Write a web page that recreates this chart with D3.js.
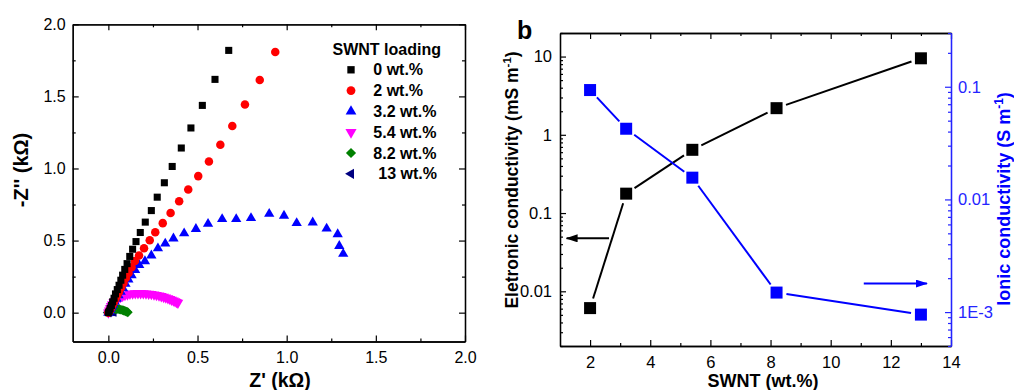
<!DOCTYPE html>
<html>
<head>
<meta charset="utf-8">
<script src="https://cdn.jsdelivr.net/npm/d3@7"></script>
<style>
  body { margin: 0; background: #fff; }
  svg { display: block; font-family: "Liberation Sans", Arial, sans-serif; }
</style>
</head>
<body>
<div id="chart"></div>
<script>
// ---- panel a: Nyquist data (kOhm) ----
const loadings = ["0 wt.%", "2 wt.%", "3.2 wt.%", "5.4 wt.%", "8.2 wt.%", "13 wt.%"];

const re0 = [0.675, 0.598, 0.527, 0.463, 0.409, 0.358, 0.314, 0.274, 0.241, 0.207, 0.179, 0.155, 0.136,
  0.12, 0.105, 0.092, 0.08, 0.07, 0.06, 0.05, 0.04, 0.032, 0.024, 0.017, 0.01, 0.005, 0.0];
const im0 = [1.819, 1.618, 1.4375, 1.281, 1.142, 1.014, 0.901, 0.801, 0.708, 0.628, 0.556, 0.493, 0.44,
  0.39, 0.34, 0.30, 0.26, 0.225, 0.19, 0.16, 0.13, 0.10, 0.075, 0.05, 0.03, 0.01, 0.0];

const re2 = [0.936, 0.849, 0.766, 0.695, 0.628, 0.564, 0.504, 0.448, 0.397, 0.349, 0.305, 0.263, 0.232, 0.2, 0.172, 0.149,
  0.13, 0.113, 0.098, 0.085, 0.072, 0.06, 0.05, 0.04, 0.031, 0.023, 0.016, 0.01, 0.005, 0.0];
const im2 = [1.808, 1.614, 1.443, 1.294, 1.165, 1.049, 0.947, 0.854, 0.772, 0.692, 0.621, 0.558, 0.503, 0.447, 0.396, 0.359,
  0.315, 0.275, 0.24, 0.205, 0.175, 0.145, 0.12, 0.095, 0.073, 0.053, 0.036, 0.021, 0.009, 0.0];

const re32 = [1.317, 1.295, 1.286, 1.224, 1.146, 1.056, 0.985, 0.902, 0.8, 0.717, 0.638, 0.559, 0.491, 0.425, 0.365, 0.319,
  0.278, 0.241, 0.205, 0.173, 0.15, 0.13, 0.112, 0.096, 0.082, 0.069, 0.057, 0.046, 0.036, 0.027, 0.019, 0.012, 0.006, 0.0];
const im32 = [0.408, 0.463, 0.544, 0.583, 0.625, 0.621, 0.672, 0.685, 0.656, 0.649, 0.649, 0.616, 0.58, 0.55, 0.515, 0.479,
  0.446, 0.396, 0.357, 0.331, 0.295, 0.26, 0.23, 0.2, 0.17, 0.145, 0.12, 0.097, 0.076, 0.057, 0.04, 0.025, 0.012, 0.0];

const re54 = [0.0, 0.005, 0.01, 0.016, 0.022, 0.03, 0.038, 0.047, 0.057, 0.068, 0.08, 0.093, 0.107, 0.121, 0.136, 0.151,
  0.166, 0.181, 0.196, 0.211, 0.226, 0.241, 0.256, 0.27, 0.284, 0.297, 0.31, 0.322, 0.334, 0.345, 0.355, 0.365, 0.374, 0.382, 0.39];
const im54 = [0.0, 0.015, 0.03, 0.045, 0.058, 0.071, 0.082, 0.092, 0.101, 0.109, 0.116, 0.122, 0.126, 0.13, 0.132, 0.134,
  0.135, 0.135, 0.134, 0.133, 0.131, 0.129, 0.126, 0.122, 0.118, 0.114, 0.109, 0.104, 0.099, 0.094, 0.089, 0.084, 0.079, 0.074, 0.068];

const re82 = [0.0, 0.005, 0.01, 0.016, 0.023, 0.03, 0.038, 0.046, 0.054, 0.062, 0.07, 0.078, 0.085, 0.092, 0.098, 0.104, 0.109];
const im82 = [0.0, 0.008, 0.014, 0.019, 0.022, 0.024, 0.025, 0.025, 0.024, 0.023, 0.021, 0.018, 0.015, 0.012, 0.009, 0.006, 0.003];

const re13 = [0.0, 0.003, 0.006, 0.01, 0.014, 0.018, 0.022, 0.026, 0.03];
const im13 = [0.0, 0.004, 0.007, 0.009, 0.01, 0.01, 0.009, 0.007, 0.005];

const nyqRe = [re0, re2, re32, re54, re82, re13];
const nyqIm = [im0, im2, im32, im54, im82, im13];
const nyqColors = ["#000000", "#ff0000", "#0000ff", "#ff00ff", "#008000", "#000080"];

const aTicks = [0.0, 0.5, 1.0, 1.5, 2.0];
const aMinor = [0.25, 0.75, 1.25, 1.75];

// ---- panel b: conductivity vs SWNT loading ----
const swnt = [2, 3.2, 5.4, 8.2, 13];
const eCond = [0.0061, 0.177, 0.643, 2.19, 9.5];      // mS/m
const iCond = [0.0935, 0.0424, 0.0156, 0.00149, 0.00095]; // S/m
const bTicks = [2, 4, 6, 8, 10, 12, 14];
const bMinor = [3, 5, 7, 9, 11, 13];
const eTicks = [0.01, 0.1, 1, 10];
const eLabels = ["0.01", "0.1", "1", "10"];
const iTicks = [0.001, 0.01, 0.1];
const iLabels = ["1E-3", "0.01", "0.1"];

const W = 1014, H = 390;
const svg = d3.select("#chart").append("svg")
  .attr("width", W).attr("height", H);
svg.append("rect").attr("width", W).attr("height", H).attr("fill", "#fff");

const major = 6, minorLen = 3;

function styleAxis(g, color, fs) {
  g.selectAll("path.domain").attr("stroke", color).attr("stroke-width", 1.3);
  g.selectAll(".tick line").attr("stroke", color).attr("stroke-width", 1.2);
  g.selectAll(".tick text").attr("fill", color).style("font-size", (fs || 16) + "px")
    .style("font-family", "'Liberation Sans', Arial, sans-serif");
}

function symbolFor(i) {
  return [d3.symbolSquare, d3.symbolCircle, d3.symbolTriangle, d3.symbolTriangle, d3.symbolSquare, d3.symbolTriangle][i];
}
const symSize = [50, 57, 46, 50, 48, 42];
const symRot = [0, 0, 0, 180, 45, -90];

// ================= panel a =================
const xA = d3.scaleLinear().domain([-0.2, 2.0]).range([72.7, 465]);
const yA = d3.scaleLinear().domain([-0.2, 2.0]).range([341.5, 24.3]);
const fmtA = d3.format(".1f");

const pa = svg.append("g");

function frameA(axisFn, pos, labels) {
  const isX = axisFn === d3.axisBottom || axisFn === d3.axisTop;
  const sc = isX ? xA : yA;
  const tr = isX ? `translate(0,${pos})` : `translate(${pos},0)`;
  let g = pa.append("g").attr("transform", tr)
    .call(axisFn(sc).tickValues(aTicks).tickFormat(labels ? fmtA : "").tickSizeInner(-major).tickSizeOuter(0)
      .tickPadding(isX ? 10 : 7));
  styleAxis(g, "#000", 16);
  g = pa.append("g").attr("transform", tr)
    .call(axisFn(sc).tickValues(aMinor).tickFormat("").tickSizeInner(-minorLen).tickSizeOuter(0));
  styleAxis(g, "#000");
}
frameA(d3.axisBottom, yA.range()[0], true);
frameA(d3.axisTop, yA.range()[1], false);
frameA(d3.axisLeft, xA.range()[0], true);
frameA(d3.axisRight, xA.range()[1], false);

// data points (last series first so black/red sit on top)
for (let s = nyqRe.length - 1; s >= 0; s--) {
  const pts = nyqRe[s].map((v, i) => [v, nyqIm[s][i]]);
  pa.append("g").selectAll("path").data(pts).enter().append("path")
    .attr("d", d3.symbol().type(symbolFor(s)).size(symSize[s]))
    .attr("transform", d => `translate(${xA(d[0])},${yA(d[1])}) rotate(${symRot[s]})`)
    .attr("fill", nyqColors[s]);
}

// legend
const leg = pa.append("g").style("font-weight", "bold").style("font-size", "16px");
leg.append("text").attr("x", 332.5).attr("y", 55).text("SWNT loading");
loadings.forEach((lab, i) => {
  const cy = 69.8 + i * 20.8;
  leg.append("path")
    .attr("d", d3.symbol().type(symbolFor(i)).size(symSize[i] + 4))
    .attr("transform", `translate(351,${cy}) rotate(${symRot[i]})`)
    .attr("fill", nyqColors[i]);
  leg.append("text").attr("x", i === 5 ? 378.3 : 373.3).attr("y", cy + 5.6).text(lab);
});

// axis titles
pa.append("text").attr("x", 280).attr("y", 387).attr("text-anchor", "middle")
  .style("font-weight", "bold").style("font-size", "19.5px").text("Z' (k\u03A9)");
pa.append("text").attr("transform", "translate(28,170) rotate(-90)").attr("text-anchor", "middle")
  .style("font-weight", "bold").style("font-size", "20px").text("-Z'' (k\u03A9)");

// ================= panel b =================
const xB = d3.scaleLinear().domain([1, 14]).range([560, 951]);
const yL = d3.scaleLog().domain([0.002, 20]).range([346, 33]);
const yR = d3.scaleLog().domain([0.0005, 0.3]).range([346, 33]);
const blue = "#0000ff";
const axisBlue = "#2424ff";

function logMinors(lo, hi) {
  const out = [];
  for (let e = -5; e <= 2; e++) {
    for (let m = 2; m <= 9; m++) {
      const v = m * Math.pow(10, e);
      if (v >= lo * 0.999 && v <= hi * 1.001) out.push(v);
    }
  }
  return out;
}

const pb = svg.append("g");
g = pb.append("g").attr("transform", `translate(0,${yL.range()[0]})`)
  .call(d3.axisBottom(xB).tickValues(bTicks).tickFormat(d3.format("d")).tickSizeInner(-major).tickSizeOuter(0).tickPadding(10));
styleAxis(g, "#000", 16.5);
g = pb.append("g").attr("transform", `translate(0,${yL.range()[0]})`)
  .call(d3.axisBottom(xB).tickValues(bMinor).tickFormat("").tickSizeInner(-minorLen).tickSizeOuter(0));
styleAxis(g, "#000");
g = pb.append("g").attr("transform", `translate(0,${yL.range()[1]})`)
  .call(d3.axisTop(xB).tickValues(bTicks).tickFormat("").tickSizeInner(-major).tickSizeOuter(0));
styleAxis(g, "#000");
g = pb.append("g").attr("transform", `translate(0,${yL.range()[1]})`)
  .call(d3.axisTop(xB).tickValues(bMinor).tickFormat("").tickSizeInner(-minorLen).tickSizeOuter(0));
styleAxis(g, "#000");

g = pb.append("g").attr("transform", `translate(${xB.range()[0]},0)`)
  .call(d3.axisLeft(yL).tickValues(eTicks).tickFormat((d, i) => eLabels[i]).tickSizeInner(-major).tickSizeOuter(0).tickPadding(8));
styleAxis(g, "#000", 16.5);
g = pb.append("g").attr("transform", `translate(${xB.range()[0]},0)`)
  .call(d3.axisLeft(yL).tickValues(logMinors(0.002, 20)).tickFormat("").tickSizeInner(-minorLen).tickSizeOuter(0));
styleAxis(g, "#000");

g = pb.append("g").attr("transform", `translate(${xB.range()[1]},0)`)
  .call(d3.axisRight(yR).tickValues(iTicks).tickFormat((d, i) => iLabels[i]).tickSizeInner(-major).tickSizeOuter(0).tickPadding(7));
styleAxis(g, axisBlue, 16.5);
g = pb.append("g").attr("transform", `translate(${xB.range()[1]},0)`)
  .call(d3.axisRight(yR).tickValues(logMinors(0.0005, 0.3)).tickFormat("").tickSizeInner(-minorLen).tickSizeOuter(0));
styleAxis(g, axisBlue);

// lines with a small gap at each marker
function gappedLines(xs, ys, yScale, color) {
  const segs = [];
  for (let i = 0; i < xs.length - 1; i++) {
    const x0 = xB(xs[i]), y0 = yScale(ys[i]), x1 = xB(xs[i + 1]), y1 = yScale(ys[i + 1]);
    const dx = x1 - x0, dy = y1 - y0, d = Math.hypot(dx, dy), gap = 10;
    segs.push([x0 + dx / d * gap, y0 + dy / d * gap, x1 - dx / d * gap, y1 - dy / d * gap]);
  }
  pb.append("g").selectAll("line").data(segs).enter().append("line")
    .attr("x1", d => d[0]).attr("y1", d => d[1]).attr("x2", d => d[2]).attr("y2", d => d[3])
    .attr("stroke", color).attr("stroke-width", 2);
  pb.append("g").selectAll("path").data(xs.map((v, i) => [v, ys[i]])).enter().append("path")
    .attr("d", d3.symbol().type(d3.symbolSquare).size(144))
    .attr("transform", d => `translate(${xB(d[0])},${yScale(d[1])})`)
    .attr("fill", color);
}
gappedLines(swnt, eCond, yL, "#000");
gappedLines(swnt, iCond, yR, blue);

// arrows pointing at each series' axis
const defs = svg.append("defs");
[["arrBlack", "#000"], ["arrBlue", blue]].forEach(([id, c]) => {
  defs.append("marker").attr("id", id).attr("viewBox", "0 0 12 8")
    .attr("refX", 11).attr("refY", 4).attr("markerWidth", 12).attr("markerHeight", 8)
    .attr("markerUnits", "userSpaceOnUse").attr("orient", "auto")
    .append("path").attr("d", "M0,0 L12,4 L0,8 Z").attr("fill", c);
});
pb.append("line").attr("x1", xB(2.63)).attr("x2", xB(1.22))
  .attr("y1", yL(0.0475)).attr("y2", yL(0.0475))
  .attr("stroke", "#000").attr("stroke-width", 2).attr("marker-end", "url(#arrBlack)");
pb.append("line").attr("x1", xB(11.1)).attr("x2", xB(13.2))
  .attr("y1", yR(0.00179)).attr("y2", yR(0.00179))
  .attr("stroke", blue).attr("stroke-width", 2).attr("marker-end", "url(#arrBlue)");

// titles
pb.append("text").attr("x", 517).attr("y", 39).style("font-weight", "bold").style("font-size", "25px").text("b");
pb.append("text").attr("x", 763).attr("y", 387).attr("text-anchor", "middle")
  .style("font-weight", "bold").style("font-size", "18px").text("SWNT (wt.%)");

const eLab = pb.append("text").attr("transform", "translate(518,180) rotate(-90)").attr("text-anchor", "middle")
  .style("font-weight", "bold").style("font-size", "17.5px");
eLab.append("tspan").text("Eletronic conductivity (mS m");
eLab.append("tspan").attr("dy", -7).style("font-size", "11.5px").text("-1");
eLab.append("tspan").attr("dy", 7).text(")");

const iLab = pb.append("text").attr("transform", "translate(1010,199) rotate(-90)").attr("text-anchor", "middle")
  .style("font-weight", "bold").style("font-size", "18px").attr("fill", blue);
iLab.append("tspan").text("Ionic conductivity (S m");
iLab.append("tspan").attr("dy", -7).style("font-size", "12px").text("-1");
iLab.append("tspan").attr("dy", 7).text(")");
</script>
</body>
</html>
